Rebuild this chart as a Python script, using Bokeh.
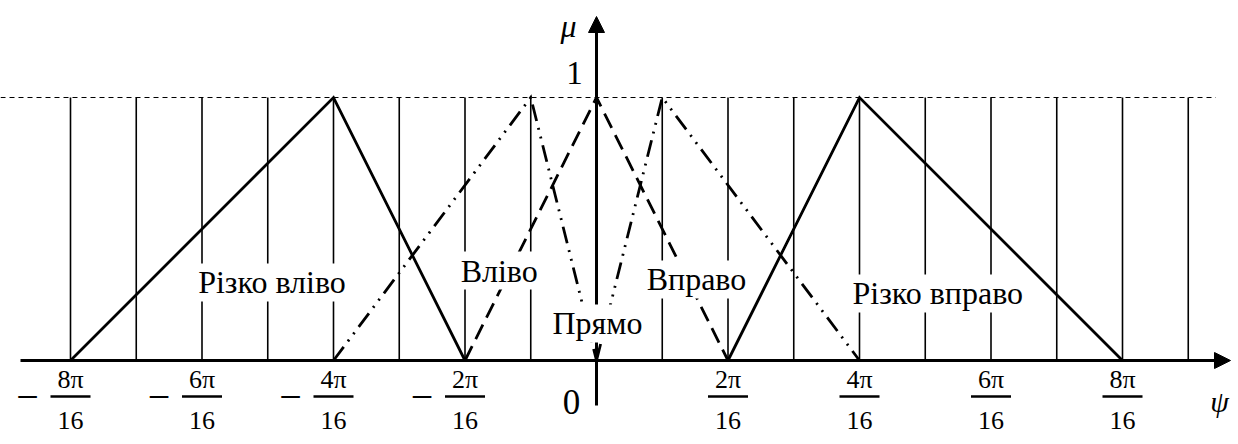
from bokeh.plotting import figure
from bokeh.models import Range1d, Label, Arrow, NormalHead
from bokeh.core.properties import value
from bokeh.embed import file_html
from bokeh.resources import INLINE

# Membership functions over psi (in units of pi/16); mu at each breakpoint
rizko_vlivo_x = [-8, -4, -2]
vlivo_x = [-4, -1, 0]
pryamo_x = [-2, 0, 2]
vpravo_x = [0, 1, 4]
rizko_vpravo_x = [2, 4, 8]
tri_mu = [0, 1, 0]

# Term names and where their captions sit (psi, mu)
term_names = ["Різко вліво", "Вліво", "Прямо", "Вправо", "Різко вправо"]
term_x = [-4.935, -1.48, 0.015, 1.52, 5.19]
term_y = [0.297, 0.342, 0.141, 0.308, 0.255]

# Tick values along psi and their fraction labels
tick_vals = [-8, -6, -4, -2, 2, 4, 6, 8]
tick_num = ["8π", "6π", "4π", "2π", "2π", "4π", "6π", "8π"]
tick_den = ["16"] * 8
grid_x = [u for u in range(-8, 10) if u != 0]

PX_X = 65.75   # pixels per pi/16
PX_Y = 263.0   # pixels per unit of mu
X0 = 596.0
Y0 = 360.0
W, H = 1238, 444

FONT = "Liberation Serif"
SERIF = value(FONT)

p = figure(width=W, height=H, output_backend="svg", toolbar_location=None,
           x_range=Range1d(-X0 / PX_X, (W - X0) / PX_X),
           y_range=Range1d(-(H - Y0) / PX_Y, Y0 / PX_Y),
           min_border=0, min_border_left=0, min_border_right=0,
           min_border_top=0, min_border_bottom=0)
p.axis.visible = False
p.grid.visible = False
p.outline_line_color = None
p.background_fill_color = "white"

# vertical guide lines and the mu = 1 dashed level
p.segment(x0=grid_x, y0=[0] * len(grid_x), x1=grid_x, y1=[1] * len(grid_x),
          line_color="black", line_width=1.6)
p.line([-X0 / PX_X, 9.42], [1, 1], line_color="black", line_width=1.2,
       line_dash="5 4")

lw = 2.8
p.line(rizko_vlivo_x, tri_mu, line_color="black", line_width=lw, line_join="miter")
p.line(rizko_vpravo_x, tri_mu, line_color="black", line_width=lw, line_join="miter")
p.line(pryamo_x, tri_mu, line_color="black", line_width=lw, line_dash="16 8",
       line_join="miter")
p.line(vlivo_x, tri_mu, line_color="black", line_width=lw,
       line_dash="17 7 2 7 2 7", line_join="miter")
p.line(vpravo_x, tri_mu, line_color="black", line_width=lw,
       line_dash="17 7 2 7 2 7", line_join="miter")

# axes with arrow heads
p.add_layout(Arrow(end=NormalHead(size=16, fill_color="black", line_color="black"),
                   x_start=(20 - X0) / PX_X, y_start=0,
                   x_end=(1230 - X0) / PX_X, y_end=0,
                   line_width=3, line_color="black"))
p.add_layout(Arrow(end=NormalHead(size=16, fill_color="black", line_color="black"),
                   x_start=0, y_start=-(405 - Y0) / PX_Y,
                   x_end=0, y_end=(Y0 - 16) / PX_Y,
                   line_width=3, line_color="black"))

# fraction tick labels below the psi axis
zeros = [0] * len(tick_vals)
p.text(x=tick_vals, y=zeros, text=tick_num, y_offset=19, text_align="center",
       text_baseline="middle", text_font=SERIF, text_font_size="26px",
       text_color="black")
p.rect(x=tick_vals, y=[-36 / PX_Y] * len(tick_vals), width=40, height=2.4,
       width_units="screen", height_units="screen",
       fill_color="black", line_color=None)
p.text(x=tick_vals, y=zeros, text=tick_den, y_offset=60, text_align="center",
       text_baseline="middle", text_font=SERIF, text_font_size="26px",
       text_color="black")
neg = [t for t in tick_vals if t < 0]
p.text(x=neg, y=[0] * len(neg), text=["−"] * len(neg), x_offset=-43, y_offset=36,
       text_align="center", text_baseline="middle", text_font=SERIF,
       text_font_size="40px", text_color="black")

# axis captions
p.text(x=[0], y=[0], text=["0"], x_offset=-25, y_offset=41, text_align="center",
       text_baseline="middle", text_font=SERIF, text_font_size="35px",
       text_color="black")
p.text(x=[0], y=[1], text=["1"], x_offset=-22, y_offset=-25, text_align="center",
       text_baseline="middle", text_font=SERIF, text_font_size="33px",
       text_color="black")
p.text(x=[0], y=[1], text=["μ"], x_offset=-28, y_offset=-72, text_align="center",
       text_baseline="middle", text_font=SERIF, text_font_size="32px",
       text_font_style="italic", text_color="black")
p.text(x=[(1219 - X0) / PX_X], y=[0], text=["ψ"], y_offset=41, text_align="center",
       text_baseline="middle", text_font=SERIF, text_font_size="30px",
       text_font_style="italic", text_color="black")

# term captions on white boxes
for name, tx, ty in zip(term_names, term_x, term_y):
    p.add_layout(Label(x=tx, y=ty, text=name, text_align="center",
                       text_baseline="middle", text_font=FONT,
                       text_font_size="32px", text_color="black",
                       background_fill_color="white", background_fill_alpha=1.0,
                       padding=1))

open("out.html", "w").write(file_html(p, INLINE))
